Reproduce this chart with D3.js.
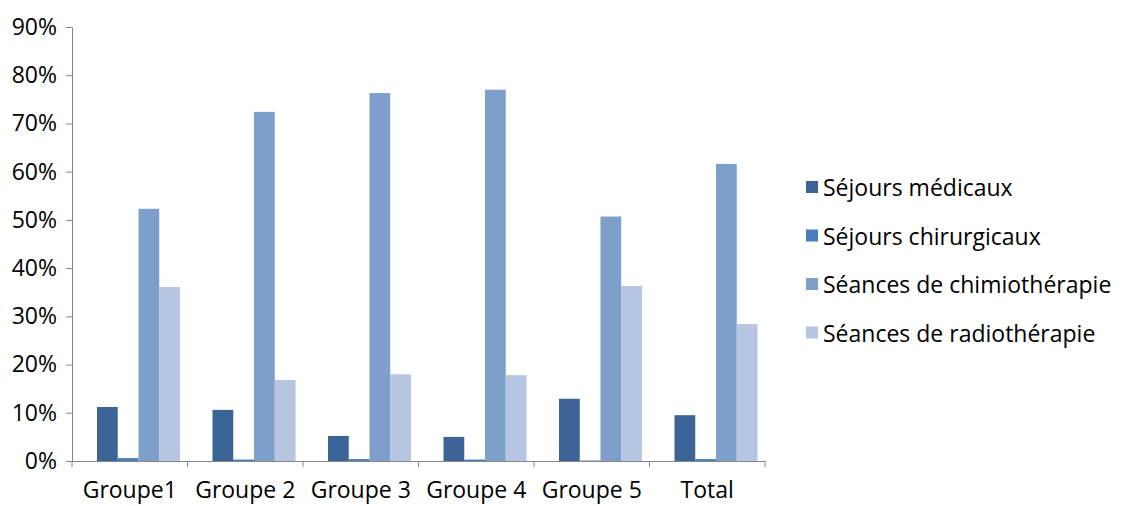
<!DOCTYPE html>
<html><head><meta charset="utf-8">
<script src="https://cdn.jsdelivr.net/npm/d3@7"></script>
<style>body{margin:0;background:#fff}text{font-family:"Open Sans","Liberation Sans",sans-serif}</style>
</head><body><svg id="c"></svg>
<script>
const categories = ["Groupe1", "Groupe 2", "Groupe 3", "Groupe 4", "Groupe 5", "Total"]
const seriesNames = ["Séjours médicaux", "Séjours chirurgicaux", "Séances de chimiothérapie", "Séances de radiothérapie"]
const medicaux = [11.2, 10.6, 5.2, 5.0, 12.9, 9.5]
const chirurgicaux = [0.6, 0.3, 0.4, 0.3, 0.1, 0.4]
const chimio = [52.3, 72.4, 76.3, 77.0, 50.7, 61.6]
const radio = [36.1, 16.8, 18.0, 17.8, 36.3, 28.4]
const colors = ["#3c6496", "#4a7ebb", "#7f9fcb", "#b7c6e0"]
const yTicks = [0, 10, 20, 30, 40, 50, 60, 70, 80, 90]

const series = [medicaux, chirurgicaux, chimio, radio]
const svg = d3.select("#c").attr("width", 1121).attr("height", 506)

const x = d3.scaleBand().domain(categories).range([72, 765]).paddingInner(0).paddingOuter(0)
const xs = d3.scaleBand().domain(d3.range(4)).range([25, 108])
const y = d3.scaleLinear().domain([0, 90]).range([461, 27])

const yAxis = svg.append("g").attr("transform", "translate(72,0)")
  .call(d3.axisLeft(y).tickValues(yTicks).tickFormat(d => d + "%").tickSize(6))
yAxis.selectAll("text").attr("font-size", 23).attr("fill", "#000").attr("dx", -6)
yAxis.selectAll("line,path").attr("stroke", "#868686")

const xAxis = svg.append("g").attr("transform", "translate(0,461)")
  .call(d3.axisBottom(x).tickSize(0))
xAxis.selectAll("text").attr("font-size", 23).attr("fill", "#000").attr("dy", 34)
xAxis.selectAll("path").attr("stroke", "#868686")
xAxis.selectAll(".sep").data(categories.concat([""])).enter().append("line")
  .attr("x1", (d, i) => 72 + i * x.bandwidth()).attr("x2", (d, i) => 72 + i * x.bandwidth())
  .attr("y1", 0).attr("y2", 6).attr("stroke", "#868686")

series.forEach((s, si) => {
  svg.append("g").selectAll("rect").data(s).enter().append("rect")
    .attr("x", (d, i) => x(categories[i]) + xs(si))
    .attr("width", xs.bandwidth())
    .attr("y", d => y(d))
    .attr("height", d => y(0) - y(d))
    .attr("fill", colors[si])
})

const leg = svg.append("g")
seriesNames.forEach((n, i) => {
  leg.append("rect").attr("x", 806).attr("y", 181 + i * 48.5).attr("width", 12).attr("height", 12).attr("fill", colors[i])
  leg.append("text").attr("x", 823).attr("y", 196 + i * 48.5).attr("font-size", 23).text(n)
})
</script></body></html>
